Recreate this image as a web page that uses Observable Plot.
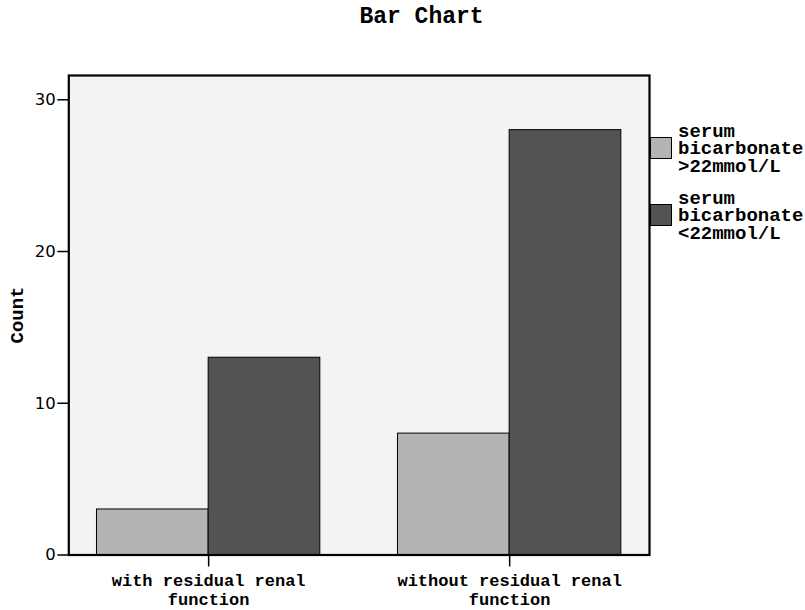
<!DOCTYPE html>
<html><head><meta charset="utf-8">
<script src="https://cdn.jsdelivr.net/npm/d3@7"></script>
<script src="https://cdn.jsdelivr.net/npm/@observablehq/plot@0.6"></script>
<style>
body{margin:0;background:#fff;}
#wrap{position:relative;width:805px;height:610px;overflow:hidden;}
.mono{font-family:"Liberation Mono","Courier New",monospace;font-weight:bold;color:#000;}
#title{position:absolute;left:0;width:843px;top:4px;text-align:center;font-size:23px;line-height:26px;}
#ylab{position:absolute;left:18px;top:315px;font-size:19px;transform:translate(-50%,-50%) rotate(-90deg);white-space:nowrap;}
.leg{position:absolute;left:650px;}
.sw{position:absolute;left:0;width:22px;height:22px;border:1px solid #000;box-sizing:border-box;}
.lt{position:absolute;left:28px;font-size:19px;line-height:17.5px;white-space:pre;}
</style></head><body><div id="wrap"></div>
<script>
const title = "Bar Chart";
const yLabel = "Count";
const categories = ["with residual renal\nfunction", "without residual renal\nfunction"];
const seriesNames = ["serum\nbicarbonate\n>22mmol/L", "serum\nbicarbonate\n<22mmol/L"];
const countsHigh = [3, 8];     // serum bicarbonate >22mmol/L
const countsLow = [13, 28];    // serum bicarbonate <22mmol/L
const seriesColors = ["#b4b4b4", "#535353"];
const yTicks = [0, 10, 20, 30];

const W = 805, H = 610;
const mL = 68.3, mR = 156, mT = 75, mB = 55.5;
const padIn = 0.258, padOut = 0.0936;
const innerW = W - mL - mR;
const step = innerW / (categories.length - padIn + 2 * padOut);
const bw = step * (1 - padIn);

const seriesData = [countsHigh, countsLow];
const rows = seriesNames.flatMap((s, si) => categories.map((c, ci) => ({category: c, series: s, count: seriesData[si][ci]})));

const font = {fontFamily: '"Liberation Mono","Courier New",monospace', fontWeight: "bold"};

const plot = Plot.plot({
  width: W, height: H,
  marginLeft: mL, marginRight: mR, marginTop: mT, marginBottom: mB,
  style: {background: "transparent", color: "#000", overflow: "visible"},
  x: {domain: categories, paddingInner: padIn, paddingOuter: padOut, align: 0.5, round: false, axis: null},
  y: {domain: [0, 31.6], axis: null},
  color: {domain: seriesNames, range: seriesColors},
  marks: [
    Plot.frame({fill: "#f3f3f3", stroke: "none"}),
    Plot.barY(rows.filter(d => d.series === seriesNames[0]), {x: "category", y: "count", fill: "series", stroke: "#000", strokeWidth: 1, insetRight: bw / 2}),
    Plot.barY(rows.filter(d => d.series === seriesNames[1]), {x: "category", y: "count", fill: "series", stroke: "#000", strokeWidth: 1, insetLeft: bw / 2}),
    Plot.axisY({ticks: yTicks, tickSize: 11, tickPadding: 2, strokeWidth: 1.5, label: null, fontFamily: '"DejaVu Sans",sans-serif', fontSize: 16.5}),
    Plot.axisX({tickSize: 12, tickPadding: 5, strokeWidth: 1.5, label: null, fontSize: 17, lineHeight: 1.14, ...font}),
    Plot.frame({stroke: "#000", strokeWidth: 2.2, fill: "none"})
  ]
});

const wrap = document.getElementById("wrap");
wrap.appendChild(plot);

const t = document.createElement("div");
t.id = "title"; t.className = "mono"; t.textContent = title;
wrap.appendChild(t);

const yl = document.createElement("div");
yl.id = "ylab"; yl.className = "mono"; yl.textContent = yLabel;
wrap.appendChild(yl);

const legTops = [136.5, 203.5];
seriesNames.forEach((s, i) => {
  const g = document.createElement("div");
  g.className = "leg mono";
  g.style.top = legTops[i] + "px";
  const sw = document.createElement("div");
  sw.className = "sw";
  sw.style.background = seriesColors[i];
  g.appendChild(sw);
  const tx = document.createElement("div");
  tx.className = "lt";
  tx.style.top = "-13px";
  tx.textContent = s;
  g.appendChild(tx);
  wrap.appendChild(g);
});
</script></body></html>
